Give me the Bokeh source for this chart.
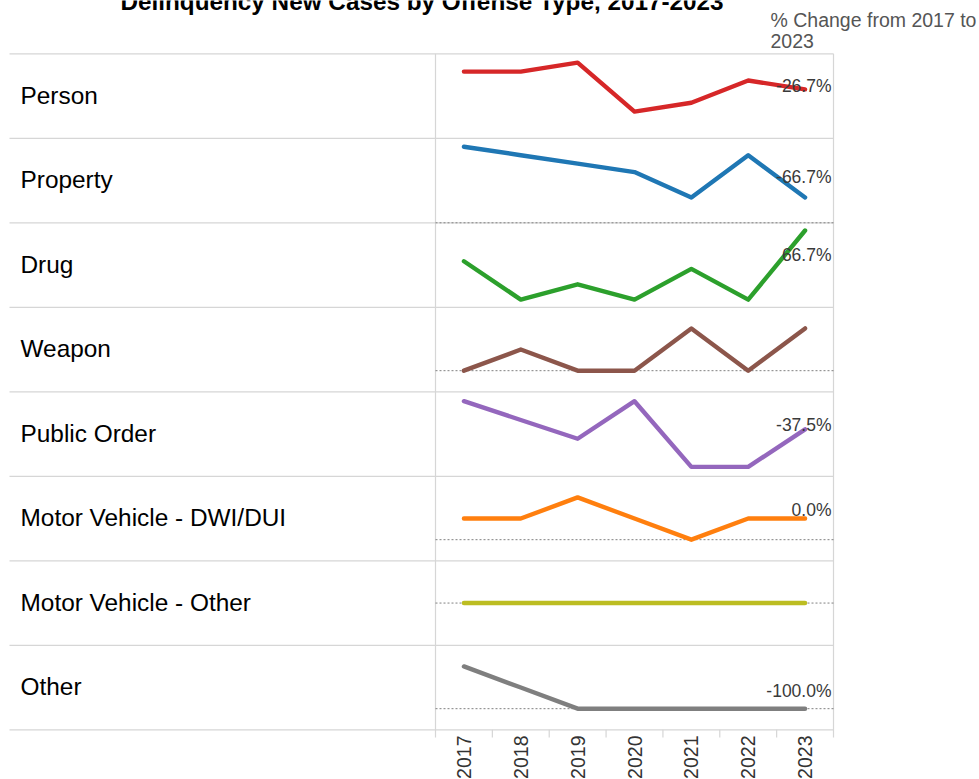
import math
from bokeh.plotting import figure
from bokeh.models import Range1d, ColumnDataSource
from bokeh.core.properties import value
from bokeh.embed import file_html
from bokeh.resources import INLINE

# ---------------- data ----------------
chart_title = "Delinquency New Cases by Offense Type, 2017-2023"
years = [2017, 2018, 2019, 2020, 2021, 2022, 2023]
offense_types = ["Person", "Property", "Drug", "Weapon", "Public Order",
                 "Motor Vehicle - DWI/DUI", "Motor Vehicle - Other", "Other"]
person = [15, 15, 17, 6, 8, 13, 11]
property_cases = [9, 8, 7, 6, 3, 8, 3]
drug = [6, 1, 3, 1, 5, 1, 10]
weapon = [0, 1, 0, 0, 2, 0, 2]
public_order = [16, 12, 8, 16, 2, 2, 10]
mv_dwi_dui = [1, 1, 2, 1, 0, 1, 1]
mv_other = [0, 0, 0, 0, 0, 0, 0]
other = [2, 1, 0, 0, 0, 0, 0]
series = [person, property_cases, drug, weapon, public_order, mv_dwi_dui, mv_other, other]

# ---------------- styling / layout ----------------
colors = ["#d62728", "#1f77b4", "#2ca02c", "#8c564b", "#9467bd", "#ff7f0e", "#bcbd22", "#7f7f7f"]
row_axis = [(0, 19), (0, 10), (0, 11), (-1, 3), (0, 18), (-1, 3), (-1, 1), (-1, 3)]
show_zero = [False, True, False, True, False, True, True, True]
label_dy = [-3, -20, 25, 0, -4, -9, 0, -18]

FONT = value("Liberation Sans")
W, H = 979, 779
CELL_L, CELL_R = 435.0, 833.0      # px of the sparkline column
ROW_TOP, ROW_BOT = 53.3, 729.3     # px of the table rows
GRID_L = 9.0
GRID_COLOR = "#d6d6d6"

n_years = len(years)
n_rows = len(offense_types)
ppx = (CELL_R - CELL_L) / n_years
row_h = (ROW_BOT - ROW_TOP) / n_rows


def xv(px):
    return -0.5 + (px - CELL_L) / ppx


def yv(py):
    return (ROW_BOT - py) / row_h


p = figure(width=W, height=H, x_range=Range1d(xv(0), xv(W)), y_range=Range1d(yv(H), yv(0)),
           output_backend="svg", toolbar_location=None, min_border=0,
           x_axis_location=None, y_axis_location=None, outline_line_color=None)
p.grid.visible = False
p.background_fill_color = "white"
p.border_fill_color = "white"

# row separators
p.segment(x0=[xv(GRID_L)] * (n_rows + 1), y0=list(range(n_rows + 1)),
          x1=[n_years - 0.5] * (n_rows + 1), y1=list(range(n_rows + 1)),
          line_color=GRID_COLOR, line_width=1.2)
# column borders and year ticks
bounds = [b - 0.5 for b in range(n_years + 1)]
p.segment(x0=bounds, y0=[yv(737)] * len(bounds), x1=bounds,
          y1=[n_rows if b in (bounds[0], bounds[-1]) else 0 for b in bounds],
          line_color=GRID_COLOR, line_width=1.2)

# year labels
p.text(x=list(range(n_years)), y=[yv(735)] * n_years, text=[str(y) for y in years],
       angle=math.pi / 2, text_align="right", text_baseline="middle",
       text_font=FONT, text_font_size="19.5px", text_color="#333333")

# row labels
p.text(x=[xv(20)] * n_rows, y=[n_rows - i - 0.5 for i in range(n_rows)], text=offense_types,
       y_offset=-1, text_align="left", text_baseline="middle",
       text_font=FONT, text_font_size="24.4px", text_color="#000000")

# title (partly cut at the top, like the original)
p.text(x=[xv(421.5)], y=[yv(0.7)], text=[chart_title], text_align="center",
       text_baseline="middle", text_font=FONT, text_font_size="24.3px",
       text_font_style="bold", text_color="#000000")

# column header
p.text(x=[xv(770)] * 2, y=[yv(19.2), yv(40.5)],
       text=[f"% Change from {years[0]} to", str(years[-1])],
       text_align="left", text_baseline="middle",
       text_font=FONT, text_font_size="19.5px", text_color="#555555")

for i, vals in enumerate(series):
    lo, hi = row_axis[i]
    sub = p.subplot(x_source=p.x_range, y_source=Range1d(lo, hi),
                    x_target=p.x_range, y_target=Range1d(n_rows - 1 - i, n_rows - i))
    if show_zero[i]:
        sub.segment(x0=[-0.5], y0=[0], x1=[n_years - 0.5], y1=[0],
                    line_color="#808080", line_width=1, line_dash="2 2")
    src = ColumnDataSource(dict(x=list(range(n_years)), y=vals))
    sub.line("x", "y", source=src, line_color=colors[i], line_width=4.4,
             line_join="round", line_cap="round")
    if vals[0] != 0:
        pct = (vals[-1] - vals[0]) / vals[0] * 100
        sub.text(x=[n_years - 0.5], y=[vals[-1]], text=[f"{pct:.1f}%"],
                 x_offset=-2, y_offset=label_dy[i], text_align="right", text_baseline="middle",
                 text_font=FONT, text_font_size="17.5px", text_color="#3a3a3a")

open("out.html", "w").write(file_html(p, INLINE))
